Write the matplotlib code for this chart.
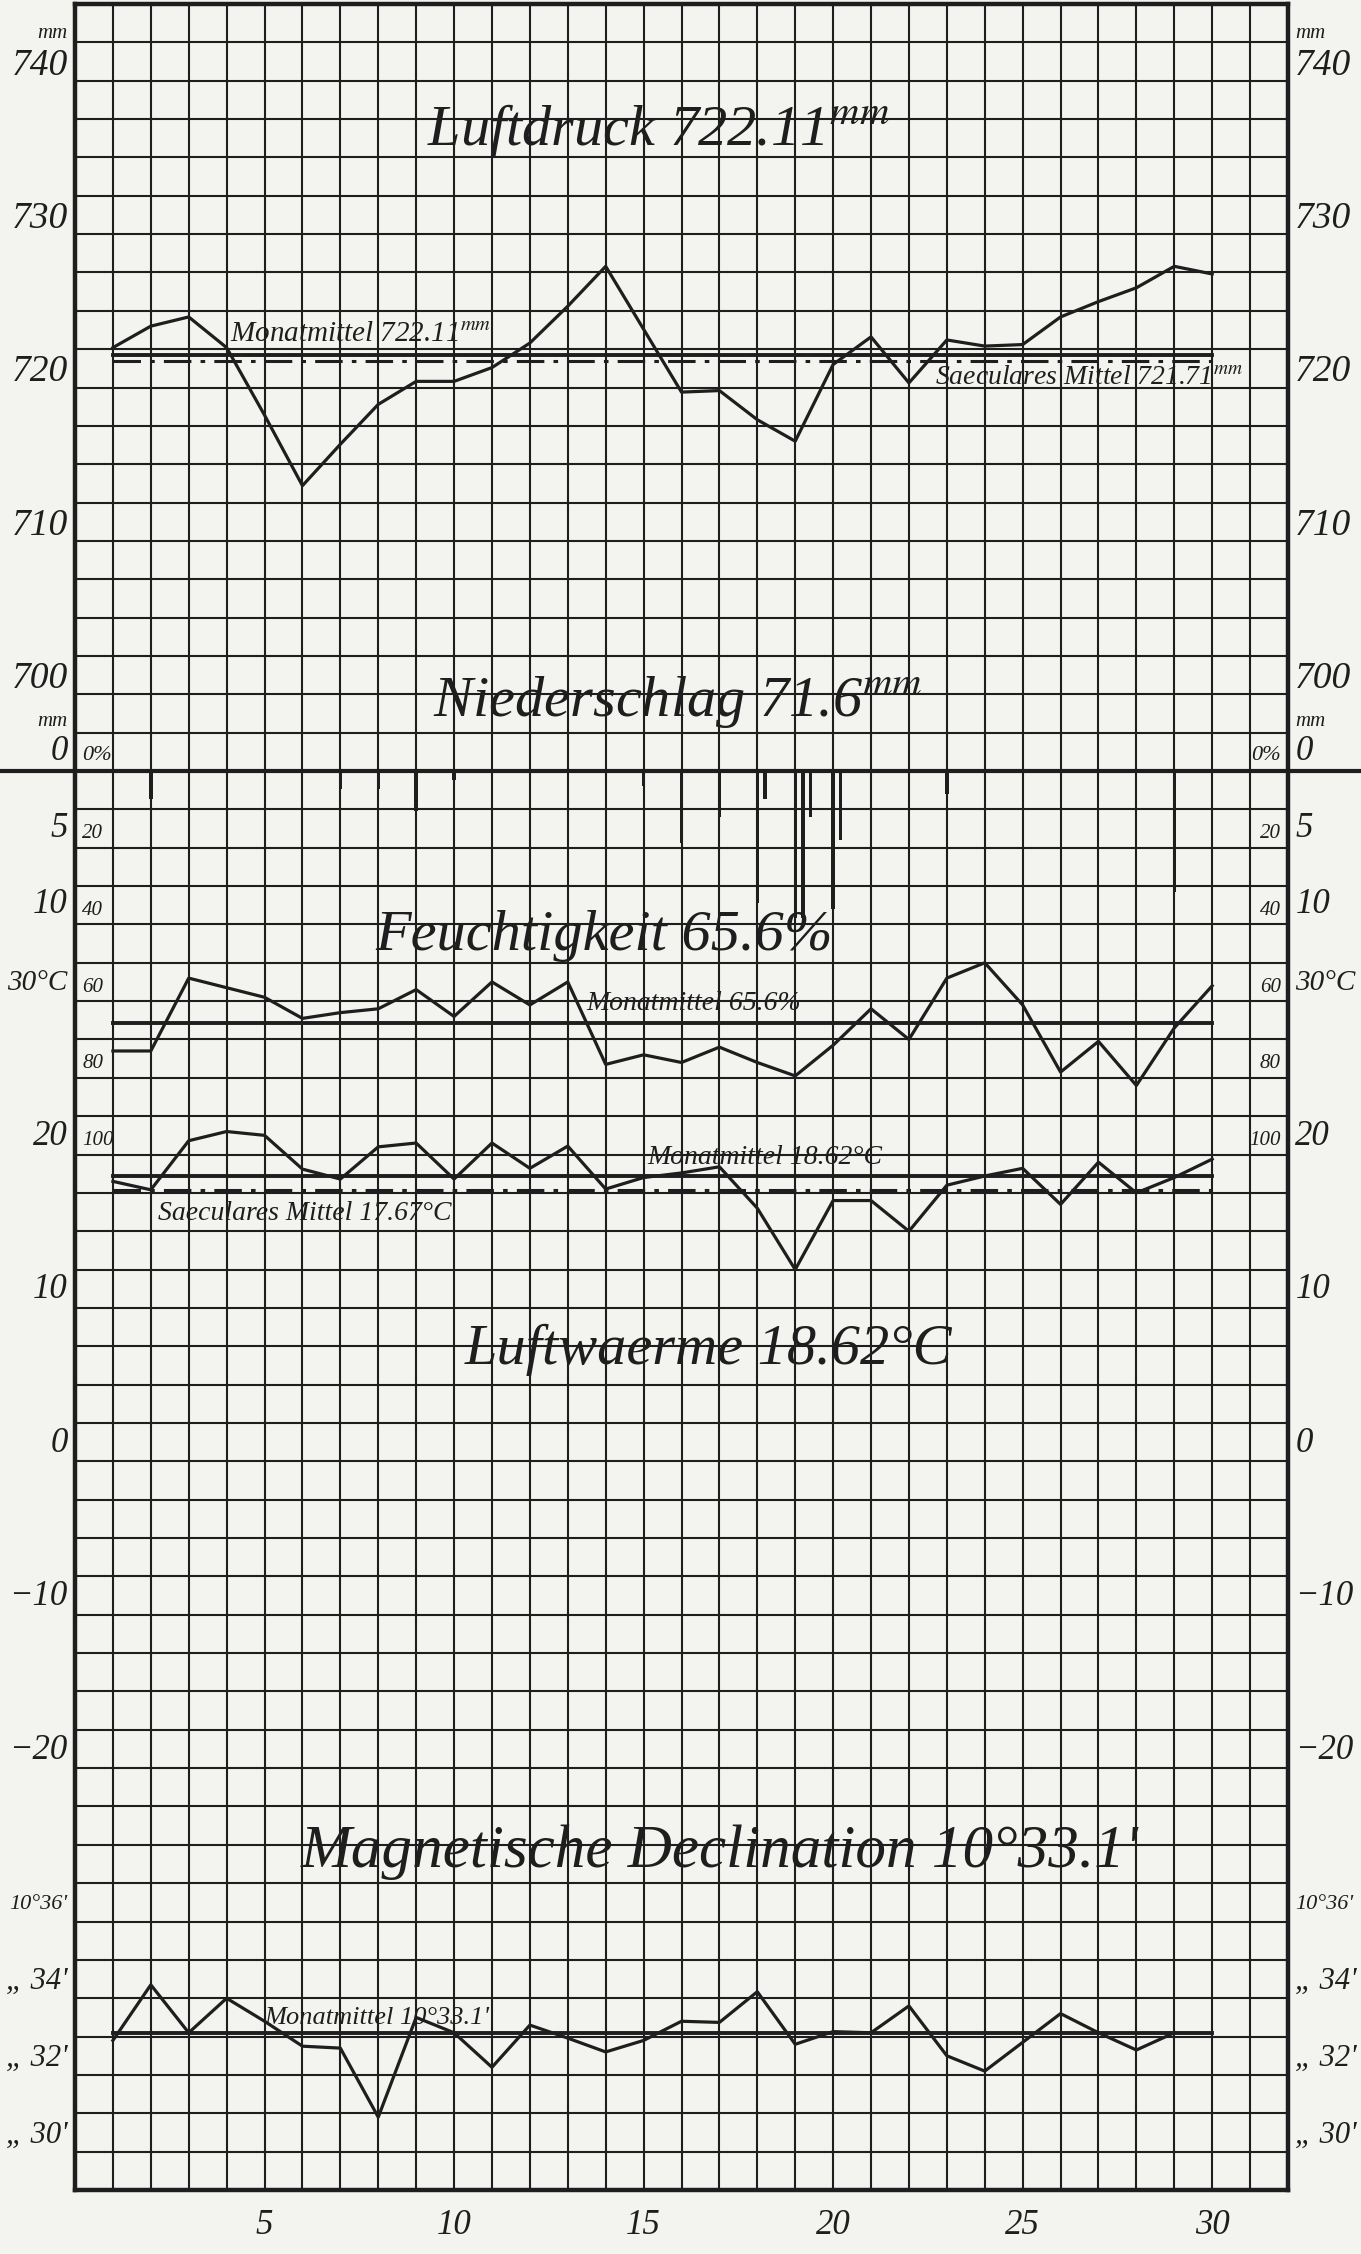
import matplotlib
matplotlib.use("Agg")
import matplotlib.pyplot as plt
import matplotlib.transforms as mtransforms

plt.rcParams['font.family'] = ['Liberation Serif', 'DejaVu Serif']
plt.rcParams['font.style'] = 'italic'
plt.rcParams['mathtext.fontset'] = 'stix'

INK = '#1e1e1e'
PAPER = '#f3f3f0'

# ---------------- data ----------------
days = list(range(1, 31))

pressure = [722.6, 724.0, 724.6, 722.6, 718.2, 713.6, 716.3, 718.9, 720.4, 720.4,
            721.3, 722.9, 725.3, 727.9, 723.8, 719.7, 719.8, 717.9, 716.5, 721.5,
            723.3, 720.3, 723.1, 722.7, 722.8, 724.6, 725.6, 726.5, 727.9, 727.4]
pressure_mean = 722.11
pressure_secular = 721.71

precip_days = [2, 7, 8, 9, 10, 15, 16, 17, 18, 18, 19, 19, 19, 20, 20, 23, 29]
precip_obs = [0, 0, 0, 0, 0, 0, 0, 0, 0, 1, 0, 1, 2, 0, 1, 0, 0]
precip_mm = [1.8, 1.2, 1.2, 2.6, 0.6, 1.0, 4.7, 3.0, 8.6, 1.85, 9.6, 9.6, 3.0, 9.0, 4.5, 1.5, 7.9]

humidity = [73, 73, 54, 56.5, 59, 64.5, 63, 62, 57, 64,
            55, 61, 55, 76.5, 74, 76, 72, 76, 79.5, 71.5,
            62, 70, 54, 50, 61, 78.5, 70.5, 82, 67, 56]
humidity_mean = 65.6

temperature = [18.25, 17.7, 20.9, 21.5, 21.25, 19.05, 18.4, 20.5, 20.75, 18.4,
               20.75, 19.1, 20.55, 17.75, 18.5, 18.8, 19.2, 16.5, 12.5, 17.0,
               17.0, 15.0, 18.0, 18.6, 19.1, 16.75, 19.5, 17.5, 18.5, 19.7]
temperature_mean = 18.62
temperature_secular = 17.67

mag_days = list(range(1, 30))
declination_min = [32.9, 34.35, 33.1, 34.0, 33.4, 32.75, 32.7, 30.9, 33.5, 33.1,
                   32.2, 33.3, 32.96, 32.6, 32.9, 33.4, 33.37, 34.17, 32.8, 33.13,
                   33.1, 33.8, 32.5, 32.1, 32.85, 33.6, 33.1, 32.65, 33.1]
declination_mean = 33.1

x_tick_labels = ['5', '10', '15', '20', '25', '30']
pressure_ticks = [740, 730, 720, 710, 700]
precip_ticks = [0, 5, 10]
humidity_ticks = [20, 40, 60, 80, 100]
temperature_ticks = [30, 20, 10, 0, -10, -20]
temperature_labels = ['30°C', '20', '10', '0', '\u221210', '\u221220']
declination_ticks = [36, 34, 32, 30]
declination_labels = ["10°36'", "\u201e 34'", "\u201e 32'", "\u201e 30'"]

# ---------------- layout ----------------
W, H = 1361, 2254
fig = plt.figure(figsize=(W / 100, H / 100), dpi=100, facecolor=PAPER)
rect = [75 / W, 1 - 2190 / H, (1288 - 75) / W, (2190 - 4) / H]

NCOL, NROW = 32, 57
ax = fig.add_axes(rect)
ax.set_facecolor(PAPER)
ax.set_xlim(0, NCOL)
ax.set_ylim(NROW, 0)
ax.set_xticks(range(NCOL + 1))
tick_text = dict(zip([int(t) for t in x_tick_labels], x_tick_labels))
ax.set_xticklabels([tick_text.get(d, '') for d in range(NCOL + 1)])
ax.set_yticks(range(NROW + 1))
ax.tick_params(axis='x', length=0, pad=14, labelsize=25, colors=INK)
ax.tick_params(axis='y', length=0, labelleft=False)
ax.grid(True, color=INK, lw=1.5)
ax.set_axisbelow(True)
for s in ax.spines.values():
    s.set_linewidth(3.2)
    s.set_color(INK)


def overlay(ylim):
    a = fig.add_axes(rect)
    a.set_xlim(0, NCOL)
    a.set_ylim(*ylim)
    a.axis('off')
    a.patch.set_alpha(0)
    return a


# each quantity: 2.5 units (or 10 %, 1') per grid row
a_p = overlay((745 - NROW * 2.5, 745))
a_r = overlay((-50 + NROW * 2.5, -50))
a_h = overlay((-200 + NROW * 10, -200))
a_t = overlay((95 - NROW * 2.5, 95))
a_m = overlay((86 - NROW, 86))

lw_data = 2.3
lw_mean = 2.8
dash = (0, (9, 3, 1.5, 3))

# pressure
a_p.plot(days, pressure, color=INK, lw=lw_data)
a_p.plot([days[0], days[-1]], [pressure_mean] * 2, color=INK, lw=lw_mean)
a_p.plot([days[0], days[-1]], [pressure_secular] * 2, color=INK, lw=2.2, linestyle=dash)

# precipitation
bx = [d + 0.2 * o for d, o in zip(precip_days, precip_obs)]
a_r.bar(bx, precip_mm, width=0.09, bottom=0, color=INK)
zt = mtransforms.blended_transform_factory(fig.transFigure, a_r.transData)
a_r.plot([0, 1], [0, 0], color=INK, lw=3.0, transform=zt, clip_on=False)

# humidity
a_h.plot(days, humidity, color=INK, lw=lw_data)
a_h.plot([days[0], days[-1]], [humidity_mean] * 2, color=INK, lw=lw_mean)

# temperature
a_t.plot(days, temperature, color=INK, lw=lw_data)
a_t.plot([days[0], days[-1]], [temperature_mean] * 2, color=INK, lw=lw_mean)
a_t.plot([days[0], days[-1]], [temperature_secular] * 2, color=INK, lw=2.2, linestyle=dash)

# declination
a_m.plot(mag_days, declination_min, color=INK, lw=lw_data)
a_m.plot([days[0], days[-1]], [declination_mean] * 2, color=INK, lw=lw_mean)


# ---------------- scale labels ----------------
def side_label(a, value, text, size=25, dy=11, inner=False):
    for side in ('left', 'right'):
        if inner:
            xs, ha = (0.006, 'left') if side == 'left' else (0.994, 'right')
        else:
            xs, ha = (-0.006, 'right') if side == 'left' else (1.006, 'left')
        tr = mtransforms.blended_transform_factory(ax.transAxes, a.transData)
        tr = mtransforms.offset_copy(tr, fig=fig, y=dy, units='points')
        a.text(xs, value, text, transform=tr, ha=ha, va='center',
               fontsize=size, color=INK, clip_on=False)


for v in pressure_ticks:
    side_label(a_p, v, str(v), size=27)
side_label(a_p, pressure_ticks[0], 'mm', size=15, dy=34)

for v in precip_ticks:
    side_label(a_r, v, str(v), size=25, dy=14)
side_label(a_r, precip_ticks[0], 'mm', size=15, dy=36)

side_label(a_h, 0, '0%', size=16, dy=11, inner=True)
for v in humidity_ticks:
    side_label(a_h, v, str(v), size=15, dy=10, inner=True)

for v, lab in zip(temperature_ticks, temperature_labels):
    side_label(a_t, v, lab, size=21 if len(lab) > 3 else 25, dy=13)

for v, lab in zip(declination_ticks, declination_labels):
    side_label(a_m, v, lab, size=16 if len(lab) > 5 else 22, dy=12)

# ---------------- titles and annotations ----------------
def note(x, y, s, size, ha='left', va='center'):
    ax.text(x, y, s, fontsize=size, ha=ha, va=va, color=INK)


note(15.4, 3.3, 'Luftdruck 722.11$^{mm}$', 42, ha='center')
note(4.1, 8.95, 'Monatmittel 722.11$^{mm}$', 21, va='bottom')
note(22.7, 9.75, 'Saeculares Mittel 721.71$^{mm}$', 20)

note(15.9, 18.2, 'Niederschlag 71.6$^{mm}$', 42, ha='center')

note(13.95, 24.3, 'Feuchtigkeit 65.6%', 42, ha='center')
note(13.5, 26.4, 'Monatmittel 65.6%', 20, va='bottom')

note(15.1, 30.4, 'Monatmittel 18.62°C', 20, va='bottom')
note(2.2, 31.55, 'Saeculares Mittel 17.67°C', 20)
note(16.7, 35.1, 'Luftwaerme 18.62°C', 42, ha='center')

note(17.0, 48.2, "Magnetische Declination 10°33.1'", 44, ha='center')
note(5.0, 52.8, "Monatmittel 10°33.1'", 19, va='bottom')

fig.savefig('out.png', dpi=100, facecolor=PAPER)
